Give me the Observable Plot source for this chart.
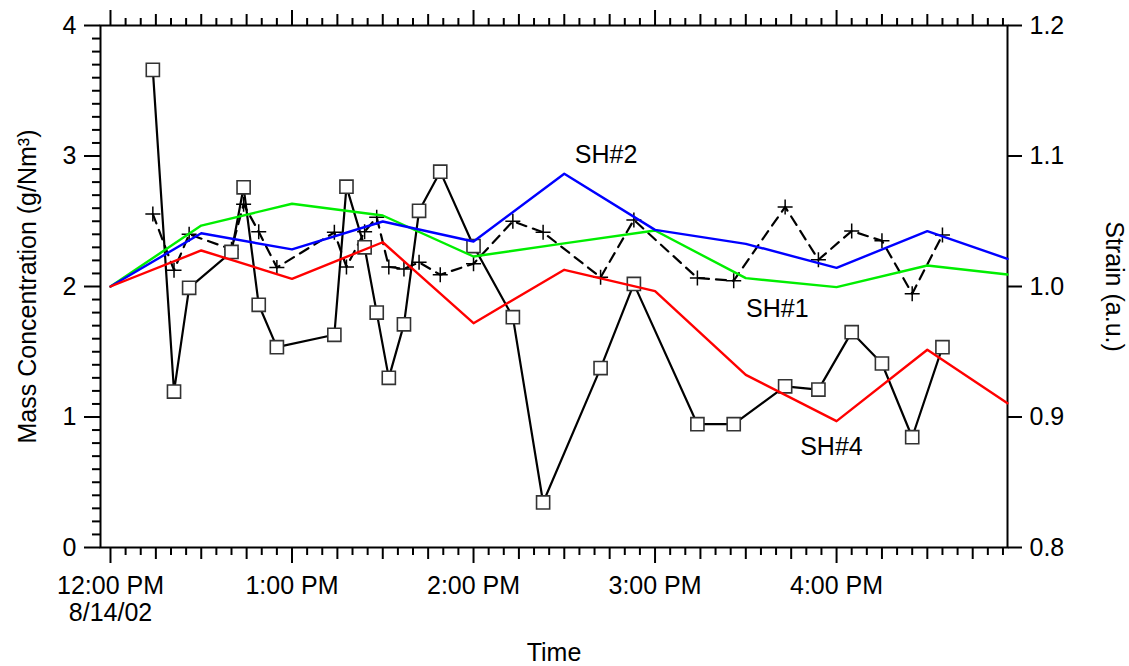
<!DOCTYPE html>
<html><head><meta charset="utf-8">
<script src="https://cdn.jsdelivr.net/npm/d3@7"></script>
<script src="https://cdn.jsdelivr.net/npm/@observablehq/plot@0.6"></script>
<style>body{margin:0;background:#fff} svg{display:block}</style>
</head><body><div id="chart"></div>
<script>
// minutes after 12:00 PM, 8/14/02
const sampleMinutes = [14, 21, 26, 40, 44, 49, 55, 74, 78, 84, 88, 92, 97, 102, 109, 120, 133, 143, 162, 173, 194, 206, 223, 234, 245, 255, 265, 275];
// Mass concentration (g/Nm3), squares, solid line
const massSquares = [3.66, 1.195, 1.99, 2.265, 2.76, 1.86, 1.535, 1.63, 2.765, 2.30, 1.80, 1.30, 1.71, 2.58, 2.88, 2.31, 1.765, 0.345, 1.375, 2.02, 0.945, 0.945, 1.235, 1.21, 1.65, 1.41, 0.845, 1.535];
// Mass concentration (g/Nm3), plus markers, dashed line
const massPlus = [2.555, 2.125, 2.40, 2.285, 2.63, 2.42, 2.145, 2.415, 2.15, 2.42, 2.53, 2.15, 2.135, 2.185, 2.09, 2.175, 2.50, 2.415, 2.07, 2.51, 2.065, 2.045, 2.61, 2.205, 2.425, 2.35, 1.945, 2.395];
// strain (a.u.) series, every 30 min until right edge of the chart
const strainMinutes = [0, 30, 60, 90, 120, 150, 180, 210, 240, 270, 296.5];
const strainSH1 = [1.000, 1.0467, 1.0634, 1.0544, 1.0230, 1.0330, 1.0429, 1.0064, 0.9995, 1.0161, 1.0092];
const strainSH2 = [1.000, 1.0408, 1.0284, 1.0498, 1.0345, 1.0864, 1.0434, 1.0327, 1.0143, 1.0424, 1.0212];
const strainSH4 = [1.000, 1.0276, 1.0059, 1.0339, 0.9719, 1.0128, 0.9964, 0.9323, 0.8968, 0.9515, 0.9106];
const seriesLabels = ["SH#1", "SH#2", "SH#4"];
const labelMinutes = [220.4, 163.8, 238.3];
const labelStrain = [0.9824, 1.1011, 0.8769];
// axes
const xDomainMinutes = [-3.3, 296.5];
const hourTicks = [0, 60, 120, 180, 240];
const hourTickLabels = ["12:00 PM\n8/14/02", "1:00 PM", "2:00 PM", "3:00 PM", "4:00 PM"];
const massTicks = [0, 1, 2, 3, 4];
const strainTicks = [0.8, 0.9, 1.0, 1.1, 1.2];
const strainTickLabels = ["0.8", "0.9", "1.0", "1.1", "1.2"];
const yLabel = "Mass Concentration (g/Nm³)";
const y2Label = "Strain (a.u.)";
const xLabel = "Time";

const base = Date.UTC(2002, 7, 14, 12, 0);
const T = m => new Date(base + m * 60000);
const strainToMass = s => (s - 0.8) * 10; // secondary axis: 0.8..1.2 -> 0..4

const samples = sampleMinutes.map((m, i) => ({t: T(m), sq: massSquares[i], pl: massPlus[i]}));
const strain = [];
[["SH#1", strainSH1], ["SH#2", strainSH2], ["SH#4", strainSH4]].forEach(([name, arr]) =>
  strainMinutes.forEach((m, i) => strain.push({name, t: T(m), s: arr[i]})));
const labels = seriesLabels.map((n, i) => ({n, t: T(labelMinutes[i]), s: labelStrain[i]}));

const hourLabelMap = new Map(hourTicks.map((m, i) => [T(m).getTime(), hourTickLabels[i]]));
const fiveMin = d3.range(0, 296, 5).filter(m => m % 15 !== 0).map(T);
const quarter = d3.range(0, 296, 15).filter(m => m % 60 !== 0).map(T);
const hours = hourTicks.map(T);
const minorMass = d3.range(1, 40).filter(v => v % 10 !== 0).map(v => v / 10);

const plusSymbol = {
  draw(ctx, size) {
    const r = Math.sqrt(size / Math.PI);
    ctx.moveTo(-r, 0); ctx.lineTo(r, 0);
    ctx.moveTo(0, -r); ctx.lineTo(0, r);
  }
};

const font = "'Liberation Sans', Arial, Helvetica, sans-serif";
const tickStyle = {strokeWidth: 2, label: null};

const chart = Plot.plot({
  width: 1129,
  height: 666,
  marginTop: 25,
  marginBottom: 119,
  marginLeft: 100,
  marginRight: 122,
  style: {fontFamily: font, fontSize: "25px", color: "black", background: "white"},
  x: {type: "utc", domain: xDomainMinutes.map(T)},
  y: {domain: [0, 4]},
  marks: [
    // axes ticks
    Plot.axisX({anchor: "bottom", ticks: fiveMin, tickSize: 8, tickFormat: () => "", ...tickStyle}),
    Plot.axisX({anchor: "bottom", ticks: quarter, tickSize: 12, tickFormat: () => "", ...tickStyle}),
    Plot.axisX({anchor: "bottom", ticks: hours, tickSize: 16, tickPadding: 11, lineHeight: 1.08,
      tickFormat: d => hourLabelMap.get(d.getTime()), ...tickStyle}),
    Plot.axisX({anchor: "top", ticks: fiveMin, tickSize: 8, tickFormat: () => "", ...tickStyle}),
    Plot.axisX({anchor: "top", ticks: quarter, tickSize: 12, tickFormat: () => "", ...tickStyle}),
    Plot.axisX({anchor: "top", ticks: hours, tickSize: 16, tickFormat: () => "", ...tickStyle}),
    Plot.axisY({anchor: "left", ticks: minorMass, tickSize: 8, tickFormat: () => "", ...tickStyle}),
    Plot.axisY({anchor: "left", ticks: massTicks, tickSize: 16, tickPadding: 8, tickFormat: d => String(d), ...tickStyle}),
    Plot.axisY({anchor: "right", ticks: strainTicks.map(strainToMass), tickSize: 14, tickPadding: 8,
      tickFormat: d => strainTickLabels[strainTicks.findIndex(s => Math.abs(strainToMass(s) - d) < 1e-6)], ...tickStyle}),
    Plot.frame({stroke: "black", strokeWidth: 2}),
    // mass concentration series
    Plot.line(samples, {x: "t", y: "pl", stroke: "black", strokeWidth: 2.2, strokeDasharray: "10,7"}),
    Plot.line(samples, {x: "t", y: "sq", stroke: "black", strokeWidth: 2.2}),
    Plot.dot(samples, {x: "t", y: "pl", symbol: plusSymbol, r: 7.5, stroke: "black", strokeWidth: 1.5, fill: "none"}),
    Plot.dot(samples, {x: "t", y: "sq", symbol: "square", r: 7.4, fill: "white", stroke: "#333", strokeWidth: 1.6}),
    // strain series (right axis)
    Plot.line(strain, {x: "t", y: d => strainToMass(d.s), z: "name",
      stroke: d => d.name, strokeWidth: 2.4}),
    Plot.text(labels, {x: "t", y: d => strainToMass(d.s), text: "n", fontSize: 25, fill: "black"}),
    // axis titles
    Plot.text([yLabel], {frameAnchor: "left", dx: -73, rotate: -90, textAnchor: "middle", fontSize: 25, fill: "black"}),
    Plot.text([y2Label], {frameAnchor: "right", dx: 106, rotate: 90, textAnchor: "middle", fontSize: 25, fill: "black"}),
    Plot.text([xLabel], {frameAnchor: "bottom", dy: 113, fontSize: 25, fill: "black"})
  ],
  color: {domain: ["SH#1", "SH#2", "SH#4"], range: ["#00ee00", "#0000ff", "#ff0000"]}
});
document.getElementById("chart").appendChild(chart);
</script>
</body></html>
